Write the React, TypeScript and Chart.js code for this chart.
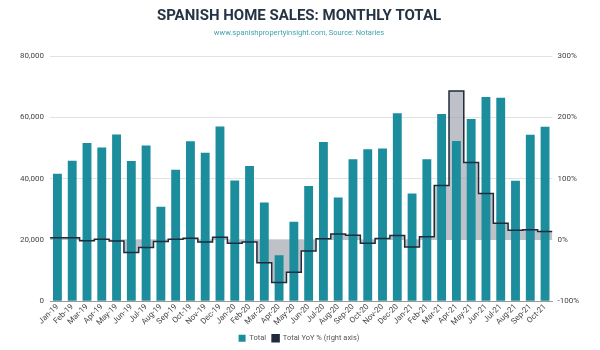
import React, { useEffect, useRef } from "react";
import { Chart, registerables } from "chart.js";

Chart.register(...registerables);

const months = [
  "Jan-19","Feb-19","Mar-19","Apr-19","May-19","Jun-19","Jul-19","Aug-19","Sep-19","Oct-19","Nov-19","Dec-19",
  "Jan-20","Feb-20","Mar-20","Apr-20","May-20","Jun-20","Jul-20","Aug-20","Sep-20","Oct-20","Nov-20","Dec-20",
  "Jan-21","Feb-21","Mar-21","Apr-21","May-21","Jun-21","Jul-21","Aug-21","Sep-21","Oct-21",
];

const totalSales = [
  41600, 45800, 51600, 50100, 54400, 45700, 50800, 30800, 42900, 52200, 48400, 57000,
  39400, 44100, 32200, 15000, 25900, 37600, 51900, 33800, 46300, 49600, 49800, 61300,
  35100, 46300, 61100, 52300, 59400, 66600, 66400, 39300, 54300, 56900,
];

const yoyPct = [
  3.3, 3.5, -1.6, 1.1, -2.0, -20.8, -12.6, -2.5, 1.1, 2.7, -3.3, 4.4,
  -5.5, -3.3, -37.3, -69.7, -52.7, -18.1, 1.6, 9.4, 7.7, -5.5, 2.2, 7.1,
  -11.5, 4.9, 88.5, 242.8, 126.4, 75.8, 27.0, 15.5, 16.5, 13.8,
];

const leftTicks = [0, 20000, 40000, 60000, 80000];
const rightTicks = [-100, 0, 100, 200, 300];

const TEAL = "#1b8d9d";
const NAVY = "#1e2b3a";

export default function App() {
  const ref = useRef<HTMLCanvasElement | null>(null);

  useEffect(() => {
    document.body.style.margin = "0";
    const canvas = ref.current;
    if (!canvas) return;
    Chart.defaults.font.family = "Roboto";

    // step points spanning each full category: start at i-0.5, plus closing point
    const stepData = yoyPct.map((v, i) => ({ x: i - 0.5, y: v }));
    stepData.push({ x: yoyPct.length - 0.5, y: yoyPct[yoyPct.length - 1] });

    const chart = new Chart(canvas, {
      type: "bar",
      data: {
        labels: months,
        datasets: [
          {
            type: "bar",
            label: "Total",
            data: totalSales,
            backgroundColor: TEAL,
            yAxisID: "y",
            xAxisID: "x",
            barPercentage: 0.6,
            categoryPercentage: 1,
            grouped: false,
            order: 2,
          },
          {
            type: "line",
            label: "Total YoY % (right axis)",
            data: stepData as any,
            xAxisID: "xLine",
            yAxisID: "yRight",
            stepped: "before",
            borderWidth: 1.5,
            borderColor: NAVY,
            backgroundColor: NAVY,
            pointRadius: 0,
            fill: false,
            order: 1,
          } as any,
          {
            type: "line",
            label: "fill",
            data: stepData as any,
            xAxisID: "xLine",
            yAxisID: "yRight",
            stepped: "before",
            borderWidth: 0,
            borderColor: "rgba(0,0,0,0)",
            backgroundColor: "rgba(150,155,165,0.62)",
            pointRadius: 0,
            fill: { value: 0 },
            order: 3,
          } as any,
        ],
      },
      options: {
        animation: false,
        responsive: false,
        maintainAspectRatio: false,
        layout: { padding: { left: 14, right: 16, top: 3, bottom: -2 } },
        plugins: {
          title: {
            display: true,
            text: "SPANISH HOME SALES: MONTHLY TOTAL",
            color: "#243444",
            font: { size: 15, weight: "bold", family: "Roboto" },
            padding: { top: 4, bottom: 4 },
          },
          subtitle: {
            display: true,
            text: "www.spanishpropertyinsight.com, Source: Notaries",
            color: "#42a3ae",
            font: { size: 7.5, family: "Roboto" },
            padding: { top: 0, bottom: 18 },
          },
          legend: {
            position: "bottom",
            labels: {
              boxWidth: 7,
              boxHeight: 7,
              color: "#555",
              font: { size: 7.5 },
              padding: 6,
              filter: (item: any) => item.text !== "fill",
              sort: (a: any, b: any) => a.datasetIndex - b.datasetIndex,
            },
          },
          tooltip: { enabled: false },
        },
        scales: {
          x: {
            type: "category",
            offset: true,
            grid: { display: false, drawTicks: false },
            border: { display: true, color: "#999" },
            ticks: {
              color: "#444",
              font: { size: 8 },
              minRotation: 45,
              maxRotation: 45,
              autoSkip: false,
              padding: 1,
            },
          },
          xLine: {
            type: "linear",
            display: false,
            offset: false,
            bounds: "data",
            min: -0.5,
            max: months.length - 0.5,
          },
          y: {
            position: "left",
            min: leftTicks[0],
            max: leftTicks[leftTicks.length - 1],
            afterBuildTicks: (s: any) => {
              s.ticks = leftTicks.map((v) => ({ value: v }));
            },
            grid: { color: "#e2e2e2", drawTicks: false },
            border: { display: false },
            ticks: {
              color: "#444",
              font: { size: 8 },
              padding: 6,
              callback: (v: any) => Number(v).toLocaleString("en-US"),
            },
          },
          yRight: {
            position: "right",
            min: rightTicks[0],
            max: rightTicks[rightTicks.length - 1],
            afterBuildTicks: (s: any) => {
              s.ticks = rightTicks.map((v) => ({ value: v }));
            },
            grid: { display: false, drawTicks: false },
            border: { display: false },
            ticks: {
              color: "#444",
              font: { size: 8 },
              padding: 5,
              callback: (v: any) => `${v}%`,
            },
          },
        },
      } as any,
    });
    return () => chart.destroy();
  }, []);

  return (
    <div style={{ width: 600, height: 350 }}>
      <canvas ref={ref} width={600} height={350} style={{ display: "block" }} />
    </div>
  );
}
